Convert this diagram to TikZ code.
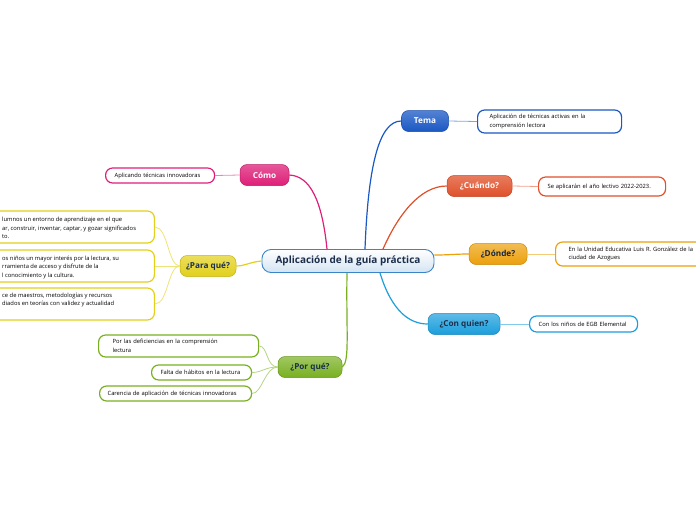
\documentclass[tikz,border=0pt]{standalone}
\usepackage{fontspec}
\setmainfont{Open Sans}
\definecolor{ctema}{HTML}{1A58C4}
\definecolor{ccuando}{HTML}{E0502A}
\definecolor{cdonde}{HTML}{ECA00A}
\definecolor{cquien}{HTML}{1A9EDC}
\definecolor{ccomo}{HTML}{DE1F78}
\definecolor{cpara}{HTML}{E2D01A}
\definecolor{cpor}{HTML}{78B020}
\definecolor{cnavy}{HTML}{1C2E4A}
\definecolor{cborder}{HTML}{3A84C8}
\begin{document}
\begin{tikzpicture}[x=1pt,y=-1pt,
  main/.style={rounded corners=7pt, minimum height=21pt, inner xsep=6pt, font=\fontsize{8.2}{9}\selectfont\bfseries, line width=0.5pt},
  child/.style={rounded corners=7pt, draw, fill=white, line width=1.2pt, font=\fontsize{5.8}{8.5}\selectfont, align=left, anchor=west, inner ysep=2pt},
  ctext/.style={font=\fontsize{5.8}{8.5}\selectfont, align=left, inner sep=0pt},
  conn/.style={line width=1.2pt},
  sconn/.style={line width=0.8pt}
]
\useasboundingbox (0,0) rectangle (696,520);

% central
\node[draw=cborder, line width=0.9pt, top color=white, bottom color=cborder!22!white, rounded corners=9pt,
  minimum width=172pt, minimum height=23pt, font=\fontsize{10}{11}\selectfont\bfseries, text=cnavy] (c) at (348,261) {Aplicación de la guía práctica};

% main topics
\node[main, minimum width=47pt, top color=ctema!75!white, bottom color=ctema, draw=ctema!85!black, text=white] (tema) at (425,121) {Tema};
\node[main, minimum width=65pt, top color=ccuando!75!white, bottom color=ccuando, draw=ccuando!85!black, text=white] (cuando) at (479.5,186) {¿Cuándo?};
\node[main, minimum width=58pt, top color=cdonde!70!white, bottom color=cdonde, draw=cdonde!85!black, text=cnavy!80!black] (donde) at (498,254) {¿Dónde?};
\node[main, minimum width=72pt, top color=cquien!70!white, bottom color=cquien, draw=cquien!85!black, text=cnavy] (quien) at (464,324) {¿Con quien?};
\node[main, minimum width=49pt, top color=ccomo!75!white, bottom color=ccomo, draw=ccomo!85!black, text=white] (como) at (264.5,175) {Cómo};
\node[main, minimum width=56pt, top color=cpara!70!white, bottom color=cpara, draw=cpara!85!black, text=cnavy] (para) at (208,266) {¿Para qué?};
\node[main, minimum width=64pt, top color=cpor!70!white, bottom color=cpor, draw=cpor!85!black, text=cnavy] (por) at (310,367) {¿Por qué?};

% children
\node[child, draw=ctema, text width=120pt, inner xsep=12pt, minimum height=23pt] (temac) at (477,121.5) {Aplicación de técnicas activas en la\\comprensión lectora};
\node[child, draw=ccuando, text width=109pt, inner xsep=9pt, minimum height=19pt] (cuandoc) at (538,186.5) {Se aplicarán el año lectivo 2022-2023.};
\node[child, draw=cdonde, text width=140pt, inner xsep=13pt, minimum height=24pt] (dondec) at (555,254) {En la Unidad Educativa Luis R. González de la\\ciudad de Azogues};
\node[child, draw=cquien, text width=90pt, inner xsep=9pt, minimum height=16pt] (quienc) at (529,324) {Con los niños de EGB Elemental};
\node[child, draw=ccomo, text width=91pt, inner xsep=9pt, minimum height=15pt] (comoc) at (105,175.5) {Aplicando técnicas innovadoras};

\node[child, draw=cpor, text width=132pt, inner xsep=14pt, minimum height=22pt] (por1) at (98,346) {Por las deficiencias en la comprensión\\lectura};
\node[child, draw=cpor, text width=82pt, inner xsep=9pt, minimum height=15pt] (por2) at (151,372.5) {Falta de hábitos en la lectura};
\node[child, draw=cpor, text width=136pt, inner xsep=8pt, minimum height=15pt] (por3) at (99,393.5) {Carencia de aplicación de técnicas innovadoras};

\node[child, draw=cpara, anchor=east, minimum width=200pt, minimum height=32pt, inner sep=0pt] (para1) at (155,227) {};
\node[child, draw=cpara, anchor=east, minimum width=200pt, minimum height=32pt, inner sep=0pt] (para2) at (155,266) {};
\node[child, draw=cpara, anchor=east, minimum width=200pt, minimum height=32pt, inner sep=0pt] (para3) at (155,304) {};
\node[ctext, anchor=west] (para1t) at (2,228) {lumnos un entorno de aprendizaje en el que\\ar, construir, inventar, captar, y gozar significados\\to.};
\node[ctext, anchor=west] (para2t) at (2,267) {os niños un mayor interés por la lectura, su\\rramienta de acceso y disfrute de la\\l conocimiento y la cultura.};
\node[ctext, anchor=west] (para3t) at (2,300) {ce de maestros, metodologías y recursos\\diados en teorías con validez y actualidad};

% main connectors
\draw[conn, ctema] ([xshift=17pt]c.north) .. controls (368,170) and (378,121) .. (tema.west);
\draw[conn, ccuando] ([xshift=35pt]c.north) .. controls (398,215) and (420,186) .. (cuando.west);
\draw[conn, cdonde] ([yshift=6pt]c.east) .. controls (450,255) and (455,254) .. (donde.west);
\draw[conn, cquien] ([xshift=32pt]c.south) .. controls (392,312) and (410,324) .. (quien.west);
\draw[conn, ccomo] ([xshift=-21pt]c.north) .. controls (322,200) and (310,176) .. (como.east);
\draw[conn, cpara] (c.west) .. controls (250,262) and (245,266) .. (para.east);
\draw[conn, cpor] ([xshift=-1pt]c.south) .. controls (346,330) and (350,362) .. (por.east);

% child connectors
\draw[sconn, ctema!55!white] (tema.east) -- (temac.west);
\draw[sconn, ccuando!55!white] (cuando.east) -- (cuandoc.west);
\draw[sconn, cdonde!55!white] (donde.east) -- (dondec.west);
\draw[sconn, cquien!55!white] (quien.east) -- (quienc.west);
\draw[sconn, ccomo!55!white] (como.west) -- (comoc.east);
\draw[sconn, cpara!60!white] (para.west) .. controls (168,266) and (168,227) .. (para1.east);
\draw[sconn, cpara!60!white] (para.west) -- (para2.east);
\draw[sconn, cpara!60!white] (para.west) .. controls (168,266) and (168,304) .. (para3.east);
\draw[sconn, cpor!55!white] (por.west) .. controls (266,367) and (268,346) .. (por1.east);
\draw[sconn, cpor!55!white] (por.west) .. controls (265,367) and (262,372.5) .. (por2.east);
\draw[sconn, cpor!55!white] (por.west) .. controls (265,367) and (262,393.5) .. (por3.east);
\end{tikzpicture}
\end{document}
